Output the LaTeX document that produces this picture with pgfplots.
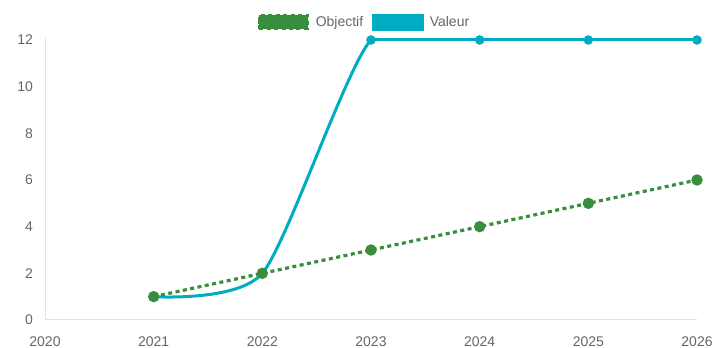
\documentclass[border=0pt]{standalone}
\usepackage{fontspec}
\setmainfont{Liberation Sans}
\usepackage{pgfplots}
\pgfplotsset{compat=1.18}
\definecolor{vteal}{HTML}{00ACC1}
\definecolor{ogreen}{HTML}{388E3C}
\definecolor{txtgray}{HTML}{666666}
\definecolor{axgray}{HTML}{E2E2E2}
\begin{document}
\begin{tikzpicture}
\useasboundingbox (0,0) rectangle (534pt,261pt);
\begin{axis}[
  at={(33.75pt,21pt)}, anchor=south west,
  scale only axis, width=489pt, height=211.225pt,
  xmin=2020, xmax=2026, ymin=0, ymax=12.07,
  xtick={2020,2021,2022,2023,2024,2025,2026},
  ytick={0,2,4,6,8,10,12},
  axis x line*=bottom, axis y line*=left,
  axis line style={axgray, line width=0.75pt, -},
  major tick length=0pt,
  /pgf/number format/assume math mode=true,
  xticklabel style={/pgf/number format/1000 sep={}, yshift=-9pt},
  yticklabel style={xshift=-5.5pt},
  tick label style={font=\fontsize{10.5pt}{12pt}\selectfont, text=txtgray},
  legend style={at={(0.4893,1.058)}, anchor=center, draw=none, fill=none,
    legend columns=2, font=\fontsize{10.5pt}{12pt}\selectfont, text=txtgray,
    /tikz/every odd column/.append style={column sep=4pt},
    /tikz/every even column/.append style={column sep=5.5pt},
    nodes={inner sep=1pt}},
  clip=true,
]
% Valeur (drawn first, below Objectif)
\addplot[vteal, line width=2.25pt, smooth, tension=0.4, forget plot]
  coordinates {(2021,1) (2022,2) (2023,12) (2024,12)};
\addplot[vteal, line width=2.25pt, mark=*, mark size=2.4pt, forget plot]
  coordinates {(2023,12) (2024,12) (2025,12) (2026,12)};
\addplot[vteal, only marks, mark=*, mark size=2.4pt, forget plot]
  coordinates {(2021,1) (2022,2)};
% Objectif
\addplot[ogreen, line width=2.4pt, dash pattern=on 3pt off 2.6pt,
  mark=*, mark size=3pt, mark options={solid},
  legend image code/.code={
    \fill[ogreen] (0.6pt,-5pt) rectangle (36.9pt,5pt);
    \draw[ogreen, line width=1.2pt, dash pattern=on 2pt off 1.5pt] (0.6pt,-5pt) rectangle (36.9pt,5pt);
  }]
  coordinates {(2021,1) (2022,2) (2023,3) (2024,4) (2025,5) (2026,6)};
\addlegendentry{Objectif}
\addlegendimage{legend image code/.code={
    \fill[vteal] (0pt,-6pt) rectangle (38pt,6pt);
  }}
\addlegendentry{Valeur}
\end{axis}
\end{tikzpicture}
\end{document}
